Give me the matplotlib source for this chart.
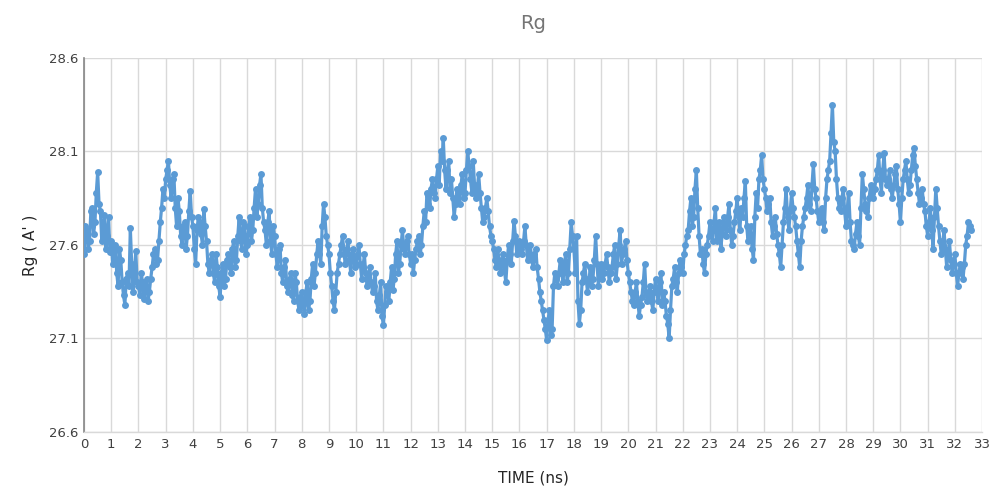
import matplotlib
matplotlib.use("Agg")
import matplotlib.pyplot as plt

# Rg values (Å), at 0.0, 0.1, 0.2 ... 32.6 ns
rg_values = [
    27.55, 27.68, 27.62, 27.80, 27.72, 27.99, 27.78, 27.70, 27.58, 27.75,
    27.62, 27.56, 27.45, 27.58, 27.40, 27.28, 27.45, 27.69, 27.35, 27.57,
    27.38, 27.45, 27.31, 27.42, 27.35, 27.48, 27.58, 27.52, 27.72, 27.90,
    27.95, 28.05, 27.85, 27.98, 27.70, 27.78, 27.60, 27.72, 27.65, 27.89,
    27.70, 27.50, 27.75, 27.66, 27.79, 27.62, 27.45, 27.55, 27.40, 27.48,
    27.32, 27.50, 27.42, 27.55, 27.45, 27.62, 27.52, 27.75, 27.58, 27.70,
    27.60, 27.75, 27.68, 27.90, 27.82, 27.98, 27.72, 27.60, 27.78, 27.55,
    27.65, 27.48, 27.60, 27.40, 27.52, 27.35, 27.45, 27.30, 27.40, 27.25,
    27.35, 27.23, 27.40, 27.30, 27.50, 27.45, 27.62, 27.50, 27.82, 27.65,
    27.55, 27.38, 27.25, 27.45, 27.55, 27.65, 27.50, 27.62, 27.45, 27.58,
    27.50, 27.60, 27.42, 27.55, 27.38, 27.48, 27.35, 27.45, 27.25, 27.40,
    27.17, 27.38, 27.30, 27.48, 27.42, 27.62, 27.50, 27.68, 27.55, 27.65,
    27.50, 27.45, 27.58, 27.65, 27.60, 27.78, 27.88, 27.80, 27.95, 27.85,
    28.02, 28.10, 28.17, 27.90, 28.05, 27.95, 27.75, 27.90, 27.82, 27.98,
    27.88, 28.10, 27.95, 28.05, 27.85, 27.98, 27.80, 27.75, 27.85, 27.70,
    27.62, 27.52, 27.58, 27.45, 27.55, 27.40, 27.60, 27.50, 27.73, 27.55,
    27.62, 27.55, 27.70, 27.52, 27.60, 27.48, 27.58, 27.42, 27.30, 27.20,
    27.09, 27.25, 27.15, 27.45, 27.38, 27.52, 27.40, 27.55, 27.45, 27.72,
    27.58, 27.65, 27.18, 27.40, 27.50, 27.35, 27.48, 27.42, 27.65, 27.38,
    27.50, 27.45, 27.55, 27.40, 27.48, 27.60, 27.50, 27.68, 27.55, 27.62,
    27.45, 27.35, 27.28, 27.40, 27.22, 27.32, 27.50, 27.30, 27.38, 27.25,
    27.42, 27.30, 27.45, 27.35, 27.22, 27.10, 27.38, 27.48, 27.35, 27.52,
    27.45, 27.60, 27.68, 27.85, 27.75, 28.00, 27.65, 27.58, 27.45, 27.60,
    27.72, 27.62, 27.80, 27.68, 27.58, 27.75, 27.65, 27.82, 27.60, 27.72,
    27.85, 27.68, 27.75, 27.94, 27.62, 27.70, 27.52, 27.88, 27.95, 28.08,
    27.90, 27.78, 27.85, 27.65, 27.75, 27.60, 27.48, 27.72, 27.90, 27.68,
    27.88, 27.75, 27.62, 27.48, 27.70, 27.80, 27.92, 27.78, 28.03, 27.85,
    27.72, 27.80, 27.68, 27.95, 28.05, 28.35, 28.10, 27.85, 27.78, 27.90,
    27.70, 27.88, 27.62, 27.58, 27.72, 27.60, 27.98, 27.82, 27.75, 27.92,
    27.85, 27.95, 28.08, 27.88, 28.09, 27.92, 28.00, 27.85, 27.98, 27.90,
    27.72, 27.95, 28.05, 27.88, 28.00, 28.12, 27.95, 27.82, 27.90, 27.78,
    27.65, 27.80, 27.58, 27.90, 27.70, 27.55, 27.68, 27.48, 27.62, 27.45,
    27.55, 27.38, 27.50, 27.42, 27.60, 27.72, 27.68,
]
# Rg values (Å), at 0.05, 0.15, 0.25 ... 32.55 ns
rg_values_mid = [
    27.70, 27.58, 27.78, 27.66, 27.88, 27.82, 27.62, 27.76, 27.65, 27.56,
    27.50, 27.60, 27.38, 27.52, 27.33, 27.42, 27.38, 27.50, 27.45, 27.40,
    27.33, 27.40, 27.38, 27.30, 27.42, 27.55, 27.50, 27.62, 27.80, 27.85,
    28.00, 27.92, 27.95, 27.80, 27.85, 27.65, 27.70, 27.58, 27.78, 27.75,
    27.58, 27.68, 27.72, 27.60, 27.70, 27.50, 27.52, 27.45, 27.55, 27.38,
    27.45, 27.38, 27.52, 27.48, 27.58, 27.48, 27.65, 27.62, 27.72, 27.55,
    27.70, 27.62, 27.80, 27.75, 27.92, 27.80, 27.68, 27.72, 27.62, 27.70,
    27.55, 27.58, 27.45, 27.48, 27.38, 27.42, 27.33, 27.45, 27.30, 27.32,
    27.28, 27.35, 27.25, 27.42, 27.38, 27.55, 27.55, 27.70, 27.75, 27.60,
    27.45, 27.30, 27.35, 27.50, 27.60, 27.55, 27.58, 27.52, 27.55, 27.48,
    27.55, 27.50, 27.48, 27.45, 27.42, 27.40, 27.38, 27.30, 27.33, 27.22,
    27.28, 27.35, 27.40, 27.36, 27.55, 27.45, 27.60, 27.58, 27.62, 27.55,
    27.55, 27.52, 27.62, 27.55, 27.70, 27.72, 27.82, 27.90, 27.88, 27.95,
    27.92, 28.05, 28.00, 28.00, 27.88, 27.85, 27.82, 27.85, 27.92, 27.85,
    28.00, 28.02, 27.88, 27.92, 27.90, 27.88, 27.72, 27.80, 27.78, 27.65,
    27.58, 27.48, 27.52, 27.50, 27.46, 27.52, 27.55, 27.62, 27.65, 27.60,
    27.58, 27.62, 27.60, 27.55, 27.52, 27.55, 27.48, 27.35, 27.25, 27.15,
    27.20, 27.12, 27.38, 27.42, 27.45, 27.45, 27.50, 27.40, 27.58, 27.65,
    27.45, 27.30, 27.25, 27.45, 27.42, 27.40, 27.38, 27.52, 27.50, 27.45,
    27.42, 27.50, 27.48, 27.45, 27.55, 27.42, 27.60, 27.50, 27.58, 27.52,
    27.40, 27.30, 27.35, 27.30, 27.28, 27.40, 27.35, 27.32, 27.30, 27.35,
    27.35, 27.40, 27.28, 27.30, 27.18, 27.25, 27.42, 27.40, 27.45, 27.48,
    27.55, 27.65, 27.78, 27.70, 27.90, 27.80, 27.55, 27.50, 27.55, 27.65,
    27.68, 27.72, 27.62, 27.72, 27.66, 27.70, 27.75, 27.68, 27.65, 27.78,
    27.75, 27.80, 27.85, 27.70, 27.65, 27.58, 27.75, 27.80, 28.00, 27.95,
    27.85, 27.82, 27.72, 27.70, 27.66, 27.55, 27.60, 27.80, 27.75, 27.78,
    27.80, 27.70, 27.55, 27.62, 27.75, 27.85, 27.82, 27.92, 27.90, 27.78,
    27.75, 27.72, 27.85, 28.00, 28.20, 28.15, 27.95, 27.80, 27.85, 27.78,
    27.80, 27.72, 27.60, 27.66, 27.65, 27.80, 27.90, 27.78, 27.85, 27.88,
    27.90, 28.00, 27.95, 28.00, 27.95, 27.95, 27.90, 27.92, 28.02, 27.82,
    27.85, 28.00, 27.95, 27.92, 28.08, 28.02, 27.88, 27.85, 27.82, 27.70,
    27.72, 27.68, 27.75, 27.80, 27.62, 27.60, 27.58, 27.55, 27.52, 27.50,
    27.45, 27.45, 27.48, 27.50, 27.65, 27.70,
]
time_step_ns = 0.1

x_ticks = list(range(0, 34))
y_ticks = [26.6, 27.1, 27.6, 28.1, 28.6]
y_tick_labels = ["26.6", "27.1", "27.6", "28.1", "28.6"]

# interleave the two sets of readings in time order
time_ns, rg = [], []
for i, v in enumerate(rg_values):
    time_ns.append(i * time_step_ns)
    rg.append(v)
    if i < len(rg_values_mid):
        time_ns.append(i * time_step_ns + time_step_ns / 2)
        rg.append(rg_values_mid[i])

fig = plt.figure(figsize=(9.89, 4.86), dpi=100)
ax = fig.add_axes([0.085, 0.111, 0.908, 0.770])

ax.plot(time_ns, rg, color="#5b9bd5", linewidth=2.3,
        marker="o", markersize=5.0, markeredgewidth=0, zorder=3)

ax.set_xlim(0, 33)
ax.set_ylim(26.6, 28.6)
ax.set_xticks(x_ticks)
ax.set_yticks(y_ticks)
ax.set_yticklabels(y_tick_labels)

ax.grid(True, color="#d9d9d9", linewidth=1.0, zorder=0)
ax.set_axisbelow(True)
for side in ["top", "right"]:
    ax.spines[side].set_visible(False)
ax.spines["left"].set_color("#868686")
ax.spines["left"].set_linewidth(1.2)
ax.spines["bottom"].set_color("#d9d9d9")
ax.spines["bottom"].set_linewidth(1.0)
ax.tick_params(axis="both", length=0, labelsize=9.5, labelcolor="#404040", pad=4)

ax.set_title("Rg", fontsize=14, color="#757575", pad=21)
ax.set_xlabel("TIME (ns)", fontsize=11, color="#262626", labelpad=14)
ax.set_ylabel("Rg ( A' )", fontsize=11, color="#262626", labelpad=8)

fig.savefig("out.png", dpi=100, facecolor="white")
